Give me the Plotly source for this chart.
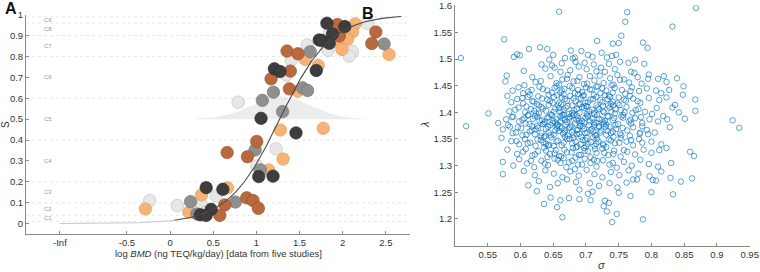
import numpy as np
import plotly.graph_objects as go

# ---------------- Panel A data ----------------
dark_x = [1.054, 1.459, 1.027, 1.193, 0.611, 0.418, 0.476, 0.349, 0.418, 1.817, 2.025, 1.882, 1.728, 1.759, 1.844, 1.694, 1.208, 1.274]
dark_y = [0.504, 0.434, 0.225, 0.227, 0.164, 0.172, 0.068, 0.042, 0.039, 0.959, 0.943, 0.908, 0.879, 0.876, 0.863, 0.733, 0.741, 0.728]

grey_x = [1.069, 1.197, 1.304, 0.985, 1.046, 0.757, 0.237, 0.310, 1.624, 1.535, 1.593, 2.480]
grey_y = [0.590, 0.629, 0.536, 0.352, 0.257, 0.103, 0.105, 0.046, 0.823, 0.650, 0.637, 0.860]

light_x = [0.788, 1.228, 1.008, 0.534, 0.083, 0.364, -0.237, 0.400, 2.287, 1.844, 1.590, 1.829, 2.113, 2.075, 1.405, 1.350]
light_y = [0.581, 0.358, 0.276, 0.132, 0.086, 0.089, 0.110, 0.052, 0.959, 0.914, 0.855, 0.829, 0.823, 0.802, 0.783, 0.711]

brown_x = [1.382, 1.004, 0.661, 0.896, 0.888, 0.962, 1.023, 0.634, 0.576, 1.940, 2.384, 2.337, 1.960, 1.355, 1.482, 1.393, 1.170]
brown_y = [0.645, 0.393, 0.340, 0.320, 0.123, 0.110, 0.073, 0.089, 0.039, 0.953, 0.917, 0.862, 0.898, 0.826, 0.813, 0.730, 0.693]

orange_x = [1.277, 1.309, 1.142, 0.665, 0.364, 0.218, -0.287, 1.775, 2.145, 2.538, 2.113, 2.056, 1.933, 1.991, 1.566, 1.717, 1.478]
orange_y = [0.448, 0.309, 0.257, 0.171, 0.137, 0.054, 0.070, 0.456, 0.956, 0.809, 0.917, 0.882, 0.869, 0.834, 0.786, 0.757, 0.634]

thresholds = [0.01, 0.04, 0.1, 0.2, 0.4, 0.6, 0.8, 0.9, 0.96, 0.99]
c_labels = ["C1", "C2", "C3", "C4", "C5", "C6", "C7", "C8", "C9"]
c_levels = [0.025, 0.07, 0.15, 0.3, 0.5, 0.7, 0.85, 0.93, 0.975]

xa_tickvals = [-1.277, -0.5, 0, 0.5, 1, 1.5, 2, 2.5]
xa_ticktext = ["-Inf", "-0.5", "0", "0.5", "1", "1.5", "2", "2.5"]
ya_tickvals = [0, 0.1, 0.2, 0.3, 0.4, 0.5, 0.6, 0.7, 0.8, 0.9, 1.0]
ya_ticktext = ["0", "0.1", "0.2", "0.3", "0.4", "0.5", "0.6", "0.7", "0.8", "0.9", "1"]

# fitted dose-response (log-logistic) and BMD50 spread
curve_mid = 1.27
curve_hill = 1.47
bump_mid = 1.285
bump_sd = 0.34
bump_height = 0.109
bump_base = 0.5

# ---------------- Panel B data ----------------
sigma_b = [
    0.659, 0.763, 0.868,
    0.760, 0.832,
    0.754,
    0.575, 0.717, 0.741, 0.750, 0.787, 0.794, 0.613, 0.630, 0.641,
    0.509, 0.590, 0.595, 0.599, 0.677, 0.693, 0.724, 0.710, 0.668, 0.680, 0.683, 0.732, 0.740, 0.746, 0.775, 0.650, 0.644, 0.703,
    0.632, 0.648, 0.652, 0.605, 0.663, 0.689, 0.698, 0.712, 0.723, 0.735, 0.752, 0.765, 0.789, 0.769, 0.774, 0.744, 0.676, 0.716, 0.729, 0.638, 0.661, 0.701, 0.684,
    0.579, 0.618, 0.606, 0.646, 0.664, 0.672, 0.690, 0.706, 0.713, 0.721, 0.737, 0.748, 0.758, 0.779, 0.795, 0.796, 0.810, 0.819, 0.823, 0.839, 0.631, 0.655, 0.681, 0.697, 0.727, 0.742, 0.766, 0.785, 0.577, 0.597,
    0.849, 0.807, 0.848, 0.617, 0.629, 0.641, 0.652, 0.667, 0.675, 0.688, 0.700, 0.709, 0.718, 0.731, 0.744, 0.755, 0.770, 0.781, 0.793, 0.661, 0.683, 0.722, 0.760, 0.588, 0.604, 0.580, 0.643, 0.697, 0.735, 0.815, 0.827,
    0.867, 0.812, 0.836, 0.832, 0.808, 0.595, 0.611, 0.620, 0.633, 0.645, 0.651, 0.659, 0.668, 0.676, 0.684, 0.692, 0.699, 0.707, 0.716, 0.725, 0.733, 0.741, 0.750, 0.761, 0.772, 0.783, 0.796, 0.625, 0.656, 0.689, 0.712, 0.738, 0.767, 0.604, 0.586, 0.823, 0.679, 0.702, 0.726, 0.751,
    0.867, 0.801, 0.818, 0.551, 0.583, 0.597, 0.607, 0.616, 0.624, 0.632, 0.639, 0.646, 0.653, 0.661, 0.669, 0.674, 0.682, 0.690, 0.697, 0.705, 0.713, 0.720, 0.728, 0.736, 0.744, 0.753, 0.762, 0.771, 0.780, 0.790, 0.842, 0.664, 0.700, 0.742, 0.628, 0.657, 0.686, 0.716, 0.757, 0.612,
    0.924, 0.851, 0.824, 0.566, 0.578, 0.589, 0.598, 0.606, 0.614, 0.622, 0.629, 0.636, 0.643, 0.650, 0.657, 0.664, 0.671, 0.678, 0.685, 0.692, 0.699, 0.706, 0.713, 0.720, 0.727, 0.734, 0.741, 0.749, 0.757, 0.766, 0.775, 0.786, 0.797, 0.810, 0.646, 0.674, 0.702, 0.731, 0.689, 0.661,
    0.934, 0.828, 0.517, 0.573, 0.584, 0.593, 0.601, 0.609, 0.617, 0.625, 0.632, 0.639, 0.646, 0.653, 0.660, 0.667, 0.674, 0.681, 0.688, 0.695, 0.702, 0.709, 0.716, 0.723, 0.730, 0.738, 0.746, 0.754, 0.763, 0.772, 0.782, 0.793, 0.805, 0.795, 0.656, 0.690, 0.720, 0.638, 0.711, 0.678,
    0.786, 0.571, 0.586, 0.598, 0.607, 0.615, 0.623, 0.631, 0.639, 0.647, 0.655, 0.663, 0.671, 0.679, 0.687, 0.695, 0.703, 0.711, 0.719, 0.727, 0.735, 0.744, 0.753, 0.762, 0.772, 0.781, 0.800, 0.815, 0.668, 0.700, 0.742, 0.651, 0.716,
    0.859, 0.865, 0.823, 0.812, 0.800, 0.580, 0.595, 0.608, 0.618, 0.627, 0.636, 0.645, 0.654, 0.662, 0.671, 0.680, 0.689, 0.698, 0.707, 0.716, 0.725, 0.734, 0.743, 0.753, 0.763, 0.775, 0.788, 0.641, 0.685, 0.731,
    0.573, 0.589, 0.598, 0.610, 0.621, 0.632, 0.642, 0.652, 0.661, 0.670, 0.679, 0.688, 0.698, 0.707, 0.716, 0.726, 0.736, 0.747, 0.758, 0.770, 0.783, 0.796, 0.810, 0.830, 0.666, 0.712,
    0.573, 0.605, 0.622, 0.638, 0.651, 0.664, 0.676, 0.689, 0.701, 0.713, 0.725, 0.738, 0.751, 0.765, 0.780, 0.797, 0.815, 0.845, 0.862, 0.829, 0.683,
    0.645, 0.657, 0.690, 0.706, 0.736, 0.762, 0.772, 0.778, 0.802, 0.807, 0.628, 0.671, 0.720, 0.748, 0.612, 0.685,
    0.703, 0.710, 0.750, 0.800, 0.833, 0.646, 0.661, 0.674, 0.690, 0.707, 0.729, 0.735, 0.625, 0.768,
    0.636, 0.656, 0.727, 0.732, 0.747, 0.664, 0.740, 0.787,
    # dense core
    0.623, 0.659, 0.687, 0.702, 0.739, 0.671, 0.716, 0.752,
    0.612, 0.634, 0.648, 0.663, 0.679, 0.694, 0.706, 0.725, 0.741, 0.768, 0.655, 0.688,
    0.603, 0.618, 0.627, 0.641, 0.649, 0.663, 0.671, 0.681, 0.695, 0.703, 0.711, 0.722, 0.737, 0.748, 0.758, 0.779, 0.614, 0.666, 0.729,
    0.592, 0.609, 0.621, 0.634, 0.643, 0.651, 0.659, 0.666, 0.672, 0.679, 0.686, 0.694, 0.701, 0.709, 0.718, 0.726, 0.734, 0.745, 0.759, 0.776, 0.628, 0.662, 0.691, 0.712, 0.739,
    0.587, 0.603, 0.611, 0.619, 0.626, 0.633, 0.641, 0.648, 0.655, 0.661, 0.668, 0.675, 0.681, 0.688, 0.694, 0.703, 0.710, 0.717, 0.724, 0.733, 0.743, 0.754, 0.768, 0.784, 0.637, 0.666, 0.697, 0.729,
    0.581, 0.596, 0.608, 0.618, 0.627, 0.634, 0.642, 0.649, 0.656, 0.663, 0.669, 0.676, 0.683, 0.691, 0.697, 0.705, 0.712, 0.719, 0.727, 0.736, 0.745, 0.756, 0.769, 0.786, 0.623, 0.653, 0.686, 0.716,
    0.588, 0.603, 0.614, 0.622, 0.631, 0.643, 0.651, 0.659, 0.665, 0.672, 0.679, 0.686, 0.693, 0.699, 0.707, 0.714, 0.722, 0.731, 0.741, 0.752, 0.767, 0.783, 0.636, 0.668, 0.701, 0.733,
    0.594, 0.611, 0.626, 0.635, 0.644, 0.657, 0.666, 0.675, 0.684, 0.692, 0.699, 0.708, 0.717, 0.726, 0.738, 0.751, 0.769, 0.642, 0.681, 0.713,
    0.604, 0.622, 0.639, 0.652, 0.667, 0.678, 0.692, 0.703, 0.714, 0.728, 0.742, 0.758, 0.659, 0.697,
    0.616, 0.637, 0.657, 0.674, 0.694, 0.717, 0.741, 0.684,
]
lambda_b = [
    1.589, 1.588, 1.596,
    1.570, 1.561,
    1.544,
    1.537, 1.534, 1.529, 1.530, 1.531, 1.521, 1.519, 1.522, 1.519,
    1.502, 1.504, 1.509, 1.507, 1.516, 1.515, 1.512, 1.504, 1.502, 1.501, 1.503, 1.503, 1.506, 1.508, 1.499, 1.508, 1.499, 1.508,
    1.490, 1.488, 1.484, 1.478, 1.492, 1.486, 1.493, 1.490, 1.484, 1.491, 1.495, 1.493, 1.491, 1.476, 1.474, 1.481, 1.479, 1.477, 1.476, 1.482, 1.476, 1.481, 1.495,
    1.469, 1.466, 1.451, 1.468, 1.462, 1.470, 1.466, 1.468, 1.460, 1.469, 1.464, 1.470, 1.462, 1.466, 1.463, 1.471, 1.463, 1.468, 1.457, 1.464, 1.459, 1.455, 1.458, 1.453, 1.455, 1.452, 1.456, 1.454, 1.458, 1.447,
    1.449, 1.441, 1.433, 1.442, 1.448, 1.441, 1.446, 1.444, 1.449, 1.442, 1.447, 1.443, 1.449, 1.441, 1.446, 1.442, 1.447, 1.440, 1.445, 1.437, 1.436, 1.436, 1.435, 1.441, 1.436, 1.431, 1.433, 1.432, 1.431, 1.436, 1.442,
    1.424, 1.423, 1.414, 1.409, 1.408, 1.425, 1.429, 1.420, 1.426, 1.421, 1.429, 1.418, 1.425, 1.431, 1.421, 1.427, 1.418, 1.424, 1.429, 1.419, 1.425, 1.420, 1.428, 1.422, 1.426, 1.418, 1.427, 1.416, 1.432, 1.415, 1.433, 1.416, 1.431, 1.417, 1.419, 1.428, 1.413, 1.411, 1.412, 1.414,
    1.403, 1.397, 1.393, 1.398, 1.402, 1.409, 1.400, 1.406, 1.398, 1.410, 1.403, 1.396, 1.407, 1.401, 1.409, 1.397, 1.404, 1.399, 1.408, 1.402, 1.396, 1.406, 1.400, 1.409, 1.398, 1.404, 1.410, 1.399, 1.406, 1.401, 1.400, 1.395, 1.412, 1.413, 1.413, 1.413, 1.394, 1.413, 1.395, 1.395,
    1.385, 1.388, 1.387, 1.380, 1.387, 1.392, 1.383, 1.389, 1.378, 1.393, 1.385, 1.379, 1.391, 1.384, 1.377, 1.389, 1.382, 1.393, 1.386, 1.379, 1.390, 1.383, 1.376, 1.388, 1.381, 1.392, 1.385, 1.378, 1.390, 1.383, 1.389, 1.380, 1.387, 1.383, 1.376, 1.388, 1.394, 1.377, 1.384, 1.383,
    1.371, 1.372, 1.374, 1.368, 1.373, 1.362, 1.370, 1.358, 1.366, 1.374, 1.361, 1.369, 1.357, 1.366, 1.373, 1.362, 1.370, 1.358, 1.367, 1.374, 1.362, 1.369, 1.357, 1.366, 1.373, 1.361, 1.369, 1.357, 1.366, 1.372, 1.360, 1.367, 1.362, 1.359, 1.370, 1.360, 1.374, 1.356, 1.364, 1.375,
    1.343, 1.352, 1.346, 1.340, 1.350, 1.343, 1.337, 1.348, 1.341, 1.353, 1.345, 1.338, 1.350, 1.342, 1.336, 1.348, 1.341, 1.353, 1.345, 1.338, 1.349, 1.342, 1.352, 1.345, 1.338, 1.350, 1.345, 1.340, 1.354, 1.336, 1.354, 1.337, 1.341,
    1.326, 1.318, 1.333, 1.329, 1.324, 1.330, 1.322, 1.331, 1.319, 1.327, 1.334, 1.322, 1.329, 1.317, 1.325, 1.333, 1.320, 1.328, 1.316, 1.324, 1.332, 1.320, 1.328, 1.317, 1.326, 1.321, 1.330, 1.316, 1.334, 1.335,
    1.307, 1.300, 1.312, 1.304, 1.297, 1.309, 1.301, 1.313, 1.305, 1.297, 1.309, 1.302, 1.313, 1.305, 1.298, 1.310, 1.302, 1.296, 1.307, 1.300, 1.311, 1.303, 1.298, 1.305, 1.314, 1.311,
    1.284, 1.290, 1.282, 1.291, 1.285, 1.278, 1.289, 1.281, 1.292, 1.284, 1.278, 1.288, 1.282, 1.291, 1.285, 1.280, 1.289, 1.270, 1.276, 1.277, 1.293,
    1.260, 1.267, 1.255, 1.267, 1.267, 1.268, 1.274, 1.274, 1.273, 1.272, 1.271, 1.274, 1.262, 1.259, 1.263, 1.269,
    1.247, 1.251, 1.249, 1.250, 1.246, 1.240, 1.235, 1.239, 1.237, 1.235, 1.234, 1.230, 1.252, 1.243,
    1.228, 1.222, 1.224, 1.214, 1.209, 1.203, 1.194, 1.199,
    # dense core
    1.457, 1.452, 1.459, 1.454, 1.451, 1.463, 1.448, 1.461,
    1.439, 1.444, 1.437, 1.441, 1.446, 1.438, 1.443, 1.445, 1.437, 1.440, 1.449, 1.434,
    1.427, 1.421, 1.430, 1.424, 1.418, 1.428, 1.422, 1.426, 1.431, 1.419, 1.425, 1.423, 1.429, 1.417, 1.424, 1.421, 1.433, 1.434, 1.432,
    1.405, 1.411, 1.403, 1.407, 1.414, 1.401, 1.408, 1.404, 1.412, 1.399, 1.406, 1.410, 1.397, 1.405, 1.409, 1.402, 1.413, 1.406, 1.400, 1.404, 1.398, 1.415, 1.416, 1.399, 1.401,
    1.391, 1.386, 1.394, 1.388, 1.392, 1.385, 1.390, 1.395, 1.387, 1.393, 1.386, 1.391, 1.396, 1.389, 1.384, 1.392, 1.388, 1.395, 1.386, 1.393, 1.389, 1.392, 1.386, 1.391, 1.382, 1.396, 1.381, 1.384,
    1.376, 1.372, 1.379, 1.374, 1.371, 1.378, 1.373, 1.380, 1.375, 1.370, 1.377, 1.372, 1.379, 1.374, 1.369, 1.376, 1.381, 1.372, 1.378, 1.373, 1.376, 1.371, 1.379, 1.374, 1.368, 1.381, 1.367, 1.380,
    1.361, 1.357, 1.364, 1.359, 1.355, 1.362, 1.358, 1.365, 1.360, 1.356, 1.363, 1.359, 1.354, 1.361, 1.366, 1.357, 1.362, 1.358, 1.364, 1.360, 1.356, 1.362, 1.353, 1.366, 1.352, 1.365,
    1.346, 1.342, 1.349, 1.344, 1.339, 1.347, 1.343, 1.350, 1.345, 1.340, 1.348, 1.344, 1.351, 1.341, 1.347, 1.343, 1.348, 1.338, 1.352, 1.337,
    1.326, 1.321, 1.328, 1.323, 1.330, 1.325, 1.320, 1.327, 1.331, 1.324, 1.322, 1.329, 1.318, 1.333,
    1.309, 1.304, 1.311, 1.306, 1.302, 1.309, 1.305, 1.315,
]

xb_tickvals = [0.55, 0.6, 0.65, 0.7, 0.75, 0.8, 0.85, 0.9, 0.95]
xb_ticktext = ["0.55", "0.6", "0.65", "0.7", "0.75", "0.8", "0.85", "0.9", "0.95"]
yb_tickvals = [1.2, 1.25, 1.3, 1.35, 1.4, 1.45, 1.5, 1.55, 1.6]
yb_ticktext = ["1.2", "1.25", "1.3", "1.35", "1.4", "1.45", "1.5", "1.55", "1.6"]

assert len(sigma_b) == len(lambda_b), (len(sigma_b), len(lambda_b))

# ---------------- Figure ----------------
FONT = "Liberation Sans, Arial, sans-serif"
AX = "#8a8a8a"
TXT = "#333333"

fig = go.Figure()

# BMD50 spread (light grey bump)
bx = np.linspace(bump_mid - 1.0, bump_mid + 1.0, 200)
by = bump_base + bump_height * np.exp(-0.5 * ((bx - bump_mid) / bump_sd) ** 2)
fig.add_trace(go.Scatter(x=np.concatenate([bx, bx[::-1]]),
                         y=np.concatenate([by, np.full_like(bx, bump_base)]),
                         fill="toself", fillcolor="#ececec", line=dict(width=0),
                         mode="lines", hoverinfo="skip", showlegend=False,
                         xaxis="x", yaxis="y"))

# threshold lines
x_lo, x_hi = -1.67, 2.78
for t in thresholds:
    fig.add_trace(go.Scatter(x=[x_lo, x_hi], y=[t, t], mode="lines",
                             line=dict(color="#e2e2e2", width=0.8, dash="dot"),
                             hoverinfo="skip", showlegend=False, xaxis="x", yaxis="y"))

def logistic(xv):
    return 1.0 / (1.0 + 10 ** (-curve_hill * (np.asarray(xv) - curve_mid)))

# curve (light part from -Inf)
cx1 = np.linspace(-1.277, 0.05, 60)
fig.add_trace(go.Scatter(x=cx1, y=logistic(cx1), mode="lines",
                         line=dict(color="#c8c8c8", width=1),
                         hoverinfo="skip", showlegend=False, xaxis="x", yaxis="y"))

groups = [
    (light_x, light_y, "#e7e7e7", "#b8b8b8"),
    (orange_x, orange_y, "#f7b375", "#dc9a5e"),
    (grey_x, grey_y, "#8f8f8f", "#707070"),
    (brown_x, brown_y, "#b9693b", "#94532d"),
    (dark_x, dark_y, "#3d3d3d", "#2a2a2a"),
]
for gx, gy, fc, lc in groups:
    fig.add_trace(go.Scatter(x=gx, y=gy, mode="markers",
                             marker=dict(size=12.5, color=fc, line=dict(color=lc, width=0.6)),
                             showlegend=False, xaxis="x", yaxis="y"))

cx2 = np.linspace(0.05, 2.68, 200)
fig.add_trace(go.Scatter(x=cx2, y=logistic(cx2), mode="lines",
                         line=dict(color="#4a4a4a", width=1.1),
                         hoverinfo="skip", showlegend=False, xaxis="x", yaxis="y"))

# Panel B scatter
fig.add_trace(go.Scatter(x=sigma_b, y=lambda_b, mode="markers",
                         marker=dict(symbol="circle-open", size=5.5,
                                     color="rgba(0,110,190,0.8)", line=dict(width=0.8)),
                         showlegend=False, xaxis="x2", yaxis="y2"))

common = dict(showline=True, linecolor=AX, linewidth=1, ticks="inside", ticklen=3,
              tickcolor=AX, showgrid=False, zeroline=False, automargin=False,
              ticklabeloverflow="allow",
              tickfont=dict(family=FONT, size=9.5, color=TXT))

fig.update_layout(
    width=760, height=272,
    margin=dict(l=0, r=0, t=0, b=0, autoexpand=False),
    paper_bgcolor="white", plot_bgcolor="white",
    font=dict(family=FONT, color=TXT),
    xaxis=dict(domain=[26 / 760, 410 / 760], range=[x_lo, x_hi], anchor="y",
               tickvals=xa_tickvals, ticktext=xa_ticktext, **common),
    yaxis=dict(domain=[(272 - 234) / 272, (272 - 14.5) / 272], range=[-0.05, 1.001], anchor="x",
               tickvals=ya_tickvals, ticktext=ya_ticktext, **common),
    xaxis2=dict(domain=[455 / 760, 750 / 760], range=[0.5, 0.9505], anchor="y2",
                tickvals=xb_tickvals, ticktext=xb_ticktext, **common),
    yaxis2=dict(domain=[(272 - 245.5) / 272, (272 - 5.3) / 272], range=[1.15, 1.601], anchor="x2",
                tickvals=yb_tickvals, ticktext=yb_ticktext, **common),
)

ann = []
for lab, lev in zip(c_labels, c_levels):
    ann.append(dict(x=-1.49, y=lev, xref="x", yref="y", text=lab, showarrow=False,
                    xanchor="left", yanchor="middle", font=dict(size=6, color="#9a9a9a", family=FONT)))
ann += [
    dict(x=218 / 760, y=(272 - 253) / 272, xref="paper", yref="paper",
         text="log <i>BMD</i> (ng TEQ/kg/day) [data from five studies]", showarrow=False,
         xanchor="center", yanchor="middle", font=dict(size=9.5, color=TXT, family=FONT)),
    dict(x=5 / 760, y=(272 - 125) / 272, xref="paper", yref="paper", text="S", textangle=-90,
         showarrow=False, xanchor="center", yanchor="middle", font=dict(size=10, color=TXT, family=FONT)),
    dict(x=425 / 760, y=(272 - 125) / 272, xref="paper", yref="paper", text="<i>λ</i>", textangle=-90,
         showarrow=False, xanchor="center", yanchor="middle", font=dict(size=11, color=TXT, family=FONT)),
    dict(x=601 / 760, y=(272 - 265) / 272, xref="paper", yref="paper", text="<i>σ</i>",
         showarrow=False, xanchor="center", yanchor="middle", font=dict(size=11, color=TXT, family=FONT)),
    dict(x=11 / 760, y=(272 - 9) / 272, xref="paper", yref="paper", text="<b>A</b>",
         showarrow=False, xanchor="center", yanchor="middle", font=dict(size=16, color="#111", family=FONT)),
    dict(x=368 / 760, y=(272 - 13) / 272, xref="paper", yref="paper", text="<b>B</b>",
         showarrow=False, xanchor="center", yanchor="middle", font=dict(size=16, color="#111", family=FONT)),
]
fig.update_layout(annotations=ann)

fig.write_html("out.html", config={"displayModeBar": False},
               post_script="document.body.style.margin='0';document.body.style.overflow='hidden';")
